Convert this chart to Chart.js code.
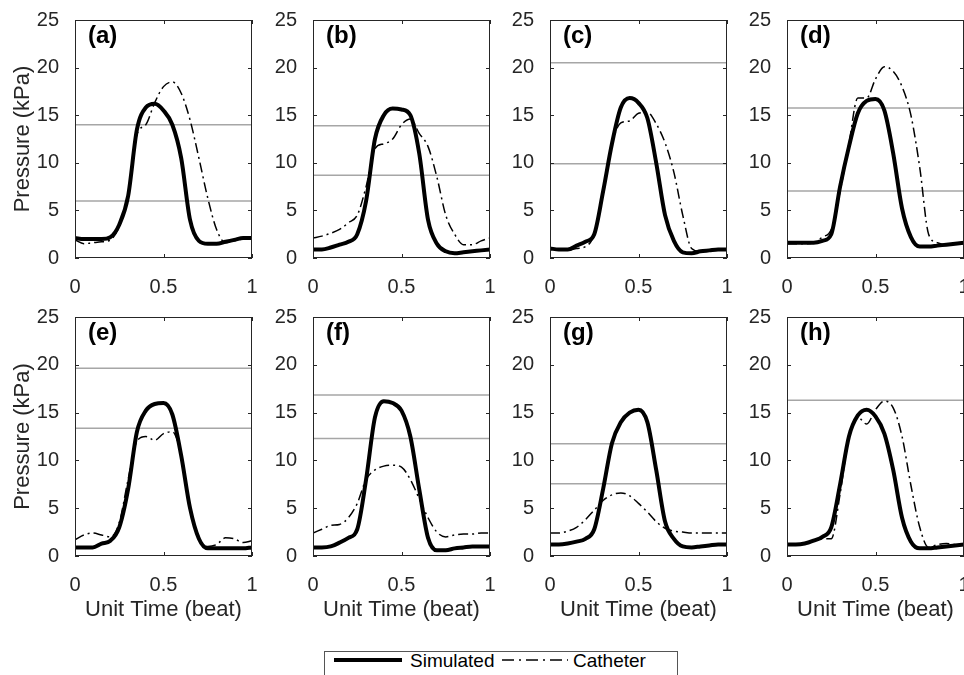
<!DOCTYPE html>
<html>
<head>
<meta charset="utf-8">
<script src="https://cdn.jsdelivr.net/npm/chart.js@4/dist/chart.umd.min.js"></script>
<style>
  html, body { margin: 0; padding: 0; background: #fff; overflow: hidden; }
  body { position: relative; width: 964px; height: 675px; font-family: "Liberation Sans", Arial, sans-serif; color: #262626; }
  canvas { position: absolute; }
  .tag { position: absolute; font-weight: bold; font-size: 24px; line-height: 24px; color: #000; }
  #legend { position: absolute; left: 324px; top: 651px; width: 352px; height: 34px; border: 1px solid #555; background: #fff; font-size: 19px; }
  #legend span { position: absolute; top: -3px; line-height: 24px; color: #000; }
  #legend svg { position: absolute; top: 0; }
</style>
</head>
<body>
<div id="legend">
  <svg style="left:9px" width="70" height="16"><line x1="0" y1="8" x2="68" y2="8" stroke="#000" stroke-width="4"/></svg>
  <span style="left:85px">Simulated</span>
  <svg style="left:177px" width="68" height="16"><line x1="0" y1="8" x2="66" y2="8" stroke="#000" stroke-width="1.5" stroke-dasharray="12 5 2 5"/></svg>
  <span style="left:248px">Catheter</span>
</div>
<script>
// shared time axis (fraction of beat)
const beatTime = [0, 0.05, 0.1, 0.15, 0.2, 0.25, 0.3, 0.35, 0.4, 0.45, 0.5,
                  0.55, 0.6, 0.65, 0.7, 0.75, 0.8, 0.85, 0.9, 0.95, 1];

const simA  = [2.1, 2.0, 2.0, 2.0, 2.2, 3.5, 6.5, 13.5, 15.8, 16.2, 15.5, 14.0, 10.5, 4.0, 1.8, 1.5, 1.5, 1.7, 1.9, 2.1, 2.1];
const cathA = [1.9, 1.5, 1.6, 1.7, 1.9, 3.3, 6.5, 13.0, 14.0, 16.3, 18.0, 18.5, 17.3, 14.5, 10.5, 6.3, 3.0, 1.6, 1.8, 2.0, 2.1];
const simB  = [0.9, 0.9, 1.1, 1.4, 1.7, 2.5, 6.0, 12.5, 15.0, 15.7, 15.6, 15.0, 11.0, 4.0, 1.5, 0.7, 0.5, 0.6, 0.7, 0.8, 0.9];
const cathB = [2.1, 2.3, 2.6, 3.0, 3.7, 4.5, 7.5, 11.5, 12.0, 12.5, 14.0, 14.6, 13.1, 11.7, 8.5, 4.5, 2.5, 1.4, 1.4, 1.8, 2.1];
const simC  = [1.0, 0.9, 0.9, 1.3, 1.7, 2.5, 7.0, 12.0, 15.8, 16.8, 16.3, 14.7, 10.0, 4.5, 1.8, 0.6, 0.5, 0.7, 0.8, 0.9, 0.9];
const cathC = [1.0, 0.9, 0.8, 1.0, 1.2, 2.5, 7.0, 12.0, 14.2, 14.4, 15.2, 15.3, 14.1, 12.1, 9.0, 4.5, 1.0, 0.7, 0.8, 0.9, 0.9];
const simD  = [1.6, 1.6, 1.6, 1.6, 1.8, 2.5, 7.5, 11.7, 15.2, 16.5, 16.7, 15.5, 11.0, 5.2, 2.2, 1.2, 1.2, 1.3, 1.4, 1.5, 1.6];
const cathD = [1.5, 1.5, 1.5, 1.6, 2.2, 3.0, 7.0, 12.0, 16.8, 16.8, 18.8, 20.1, 19.6, 18.0, 15.0, 9.5, 2.5, 1.6, 1.4, 1.5, 1.6];
const simE  = [0.9, 0.9, 0.9, 1.3, 1.6, 3.0, 7.0, 13.0, 15.2, 15.9, 16.0, 14.8, 10.5, 5.0, 1.8, 0.8, 0.8, 0.8, 0.8, 0.8, 0.9];
const cathE = [1.7, 2.2, 2.4, 2.2, 2.0, 3.5, 8.0, 12.0, 12.5, 12.1, 12.8, 13.0, 10.5, 5.0, 2.0, 1.0, 1.2, 1.9, 1.8, 1.4, 1.6];
const simF  = [0.9, 0.9, 1.0, 1.4, 1.9, 2.8, 8.0, 14.5, 16.2, 16.0, 15.2, 12.5, 7.0, 1.9, 0.6, 0.6, 0.8, 0.9, 1.0, 1.0, 1.0];
const cathF = [2.4, 2.8, 3.2, 3.3, 4.0, 5.5, 8.0, 9.0, 9.4, 9.5, 9.3, 8.0, 6.0, 4.0, 2.5, 2.0, 2.2, 2.3, 2.3, 2.4, 2.4];
const simG  = [1.2, 1.2, 1.3, 1.5, 1.8, 2.8, 7.0, 11.8, 14.0, 15.0, 15.3, 14.0, 9.0, 3.6, 1.8, 1.0, 0.9, 1.0, 1.1, 1.2, 1.2];
const cathG = [2.4, 2.4, 2.6, 3.0, 3.8, 4.8, 5.8, 6.4, 6.6, 6.3, 5.5, 4.6, 3.6, 2.9, 2.6, 2.5, 2.4, 2.4, 2.4, 2.4, 2.4];
const simH  = [1.2, 1.2, 1.3, 1.6, 2.0, 3.0, 7.5, 12.5, 14.7, 15.3, 14.6, 12.8, 9.0, 4.0, 1.5, 0.8, 0.8, 0.9, 1.0, 1.1, 1.2];
const cathH = [1.2, 1.2, 1.3, 1.6, 1.8, 1.8, 6.5, 12.5, 14.5, 13.8, 15.3, 16.2, 15.5, 12.5, 7.4, 3.0, 0.9, 1.2, 1.3, 1.2, 1.2];

// horizontal reference levels (kPa)
const refA = [14.0, 6.0];
const refB = [13.9, 8.7];
const refC = [20.5, 9.9];
const refD = [15.75, 7.05];
const refE = [19.65, 13.35];
const refF = [16.85, 12.3];
const refG = [11.75, 7.55];
const refH = [16.3];

const xTicks = [0, 0.5, 1];
const yTicks = [0, 5, 10, 15, 20, 25];
const panelTags = ["(a)", "(b)", "(c)", "(d)", "(e)", "(f)", "(g)", "(h)"];

const panels = [
  [simA, cathA, refA], [simB, cathB, refB], [simC, cathC, refC], [simD, cathD, refD],
  [simE, cathE, refE], [simF, cathF, refF], [simG, cathG, refG], [simH, cathH, refH]
];

// layout of the axes boxes
const colLeft = [75, 313, 550, 787];
const rowTop = [14, 311];
const plotW = 177;
const plotH = [244, 245];
const yAxisW = 75, padRight = 15;
const xAxisH = [40, 70];
const ink = "#262626";
const font = "'Liberation Sans', Arial, sans-serif";

const boxTicks = {
  id: "boxTicks",
  afterDatasetsDraw(chart) {
    const { ctx, chartArea: a, scales: { x, y } } = chart;
    ctx.save();
    ctx.strokeStyle = ink;
    ctx.lineWidth = 1;
    ctx.beginPath();
    xTicks.forEach(v => {
      const px = Math.round(x.getPixelForValue(v)) + 0.5;
      ctx.moveTo(px, a.bottom); ctx.lineTo(px, a.bottom - 4);
      ctx.moveTo(px, a.top); ctx.lineTo(px, a.top + 4);
    });
    yTicks.forEach(v => {
      const py = Math.round(y.getPixelForValue(v)) + 0.5;
      ctx.moveTo(a.left, py); ctx.lineTo(a.left + 4, py);
      ctx.moveTo(a.right, py); ctx.lineTo(a.right - 4, py);
    });
    ctx.stroke();
    ctx.strokeRect(Math.round(a.left) + 0.5, Math.round(a.top) + 0.5,
                   Math.round(a.width) - 1, Math.round(a.height) - 1);
    ctx.restore();
  }
};

panels.forEach(([sim, cath, ref], i) => {
  const row = Math.floor(i / 4), col = i % 4;
  const cv = document.createElement("canvas");
  const w = yAxisW + plotW + padRight;
  const h = 14 + plotH[row] + xAxisH[row];
  cv.width = w; cv.height = h;
  cv.style.left = (colLeft[col] - yAxisW) + "px";
  cv.style.top = (rowTop[row] - 14) + "px";
  document.body.appendChild(cv);

  const tag = document.createElement("div");
  tag.className = "tag";
  tag.textContent = panelTags[i];
  tag.style.left = (colLeft[col] + 13) + "px";
  tag.style.top = (rowTop[row] + 9) + "px";
  document.body.appendChild(tag);

  const datasets = [
    {
      data: beatTime.map((t, k) => ({ x: t, y: sim[k] })),
      borderColor: "#000", borderWidth: 4, pointRadius: 0,
      cubicInterpolationMode: "monotone", borderCapStyle: "round", borderJoinStyle: "round"
    },
    {
      data: beatTime.map((t, k) => ({ x: t, y: cath[k] })),
      borderColor: "#000", borderWidth: 1.5, pointRadius: 0,
      borderDash: [10, 4, 2, 4], cubicInterpolationMode: "monotone"
    }
  ];
  ref.forEach(v => datasets.push({
    data: [{ x: 0, y: v }, { x: 1, y: v }],
    borderColor: "#a6a6a6", borderWidth: 1.5, pointRadius: 0
  }));

  new Chart(cv, {
    type: "line",
    data: { datasets },
    plugins: [boxTicks],
    options: {
      responsive: false,
      animation: false,
      layout: { padding: { top: 14, right: padRight, left: 0, bottom: 0 } },
      plugins: { legend: { display: false }, tooltip: { enabled: false } },
      scales: {
        x: {
          type: "linear", min: 0, max: 1,
          grid: { display: false }, border: { display: false },
          afterBuildTicks: s => { s.ticks = xTicks.map(v => ({ value: v })); },
          afterFit: s => { s.height = xAxisH[row]; },
          ticks: {
            padding: 9, maxRotation: 0, color: ink, font: { family: font, size: 20 },
            callback: v => String(v)
          },
          title: {
            display: row === 1, text: "Unit Time (beat)", color: ink,
            font: { family: font, size: 22 }, padding: { top: 0, bottom: 3 }
          }
        },
        y: {
          min: 0, max: 25,
          grid: { display: false }, border: { display: false },
          afterBuildTicks: s => { s.ticks = yTicks.map(v => ({ value: v })); },
          afterFit: s => { s.width = yAxisW; },
          ticks: { padding: 8, color: ink, font: { family: font, size: 20 }, callback: v => String(v) },
          title: {
            display: col === 0, text: "Pressure (kPa)", color: ink,
            font: { family: font, size: 22 }, padding: { top: 10, bottom: 0 }
          }
        }
      }
    }
  });
});
</script>
</body>
</html>
